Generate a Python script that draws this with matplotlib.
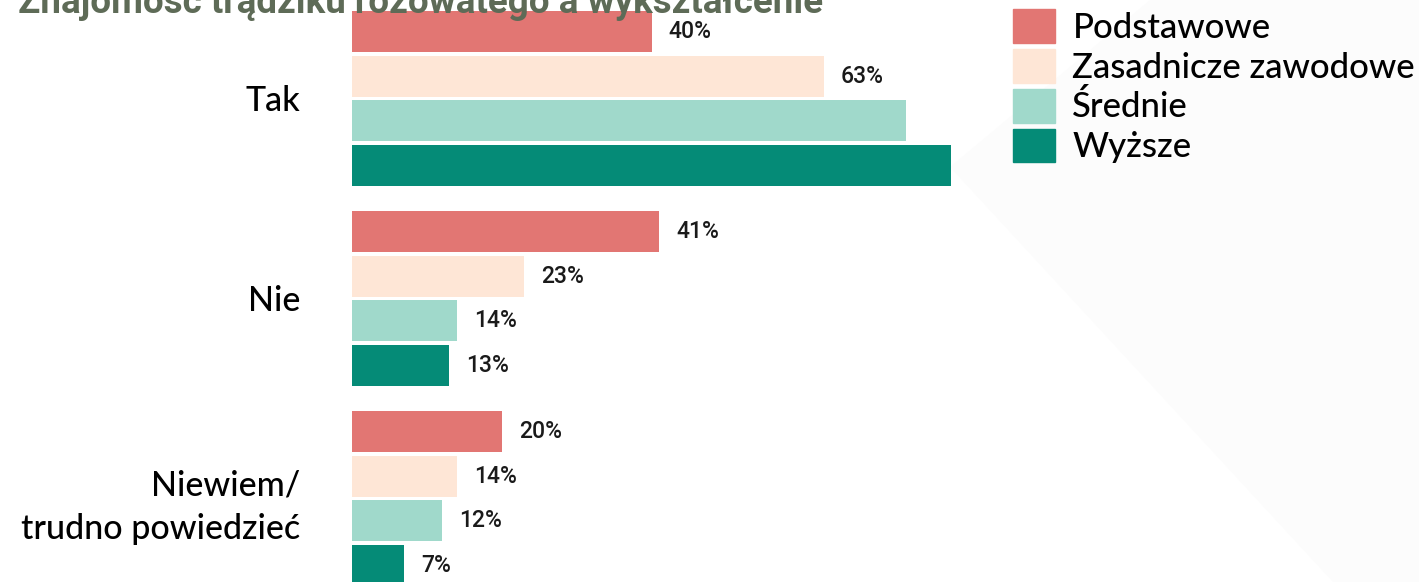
import numpy as np
import matplotlib.pyplot as plt
from matplotlib.patches import Patch, Polygon

# odpowiedzi i poziomy wyksztalcenia
answers = ["Tak", "Nie", "Niewiem/\ntrudno powiedzieć"]
levels = ["Podstawowe", "Zasadnicze zawodowe", "Średnie", "Wyższe"]
colors = ["#e27673", "#fee6d6", "#a0d9cb", "#058b77"]

# wartosci w % (wiersz = poziom wyksztalcenia, kolumna = odpowiedz)
podstawowe = [40, 41, 20]
zasadnicze = [63, 23, 14]
srednie = [74, 14, 12]
wyzsze = [80, 13, 7]
values = [podstawowe, zasadnicze, srednie, wyzsze]

# ktore slupki maja podpis
show_label = [[True, True, True],
              [True, True, True],
              [False, True, True],
              [False, True, True]]

W, H = 1419, 582
fig = plt.figure(figsize=(W / 100, H / 100), dpi=100)

# jasny ukosny pas w tle
bg = fig.add_axes([0, 0, 1, 1])
bg.set_xlim(0, W)
bg.set_ylim(H, 0)
bg.axis("off")
bg.add_patch(Polygon([(950, 167), (1150, 0), (W, 0), (W, H), (1333, H)],
                     closed=True, color="#fcfcfc", lw=0))

pitch = 44.6
group_gap = 200 / pitch
bar_h = 41 / pitch

ax = fig.add_axes([352 / W, 0, 749 / W, 1])
ax.patch.set_alpha(0)
ax.set_xlim(0, 100)
top = -31.5 / pitch
ax.set_ylim(top + H / pitch, top)

px_per_unit = 749 / 100
for i, (lvl, col, vals) in enumerate(zip(levels, colors, values)):
    y = np.arange(len(answers)) * group_gap + i
    ax.barh(y, vals, height=bar_h, color=col, label=lvl)
    for yy, v, show in zip(y, vals, show_label[i]):
        if show:
            ax.text(v + 17 / px_per_unit, yy, f"{v}%", va="center", ha="left",
                    fontsize=16.5, family="Roboto", fontweight="medium",
                    color="#1a1a1a")

ax.set_yticks(np.arange(len(answers)) * group_gap + 1.5)
ax.set_yticklabels(answers, fontsize=24.5, family="Lato", fontweight="medium",
                   linespacing=1.45)
ax.tick_params(axis="y", length=0, pad=37)
ax.set_xticks([])
for s in ax.spines.values():
    s.set_visible(False)

handles = [Patch(color=c, label=l) for c, l in zip(colors, levels)]
fig.legend(handles=handles, loc="upper left",
           bbox_to_anchor=(1013 / W, 1 - 9 / H), frameon=False,
           prop={"family": "Lato", "size": 25, "weight": "medium"},
           handlelength=1.21, handleheight=1.12, handletextpad=0.5,
           labelspacing=0.15, borderpad=0, borderaxespad=0)

fig.text(18 / W, 1 - 13 / H, "Znajomość trądziku różowatego a wykształcenie",
         fontsize=26.5, family="Roboto", fontweight="bold", color="#5e6b57",
         va="baseline", ha="left")

fig.savefig("out.png", dpi=100)
